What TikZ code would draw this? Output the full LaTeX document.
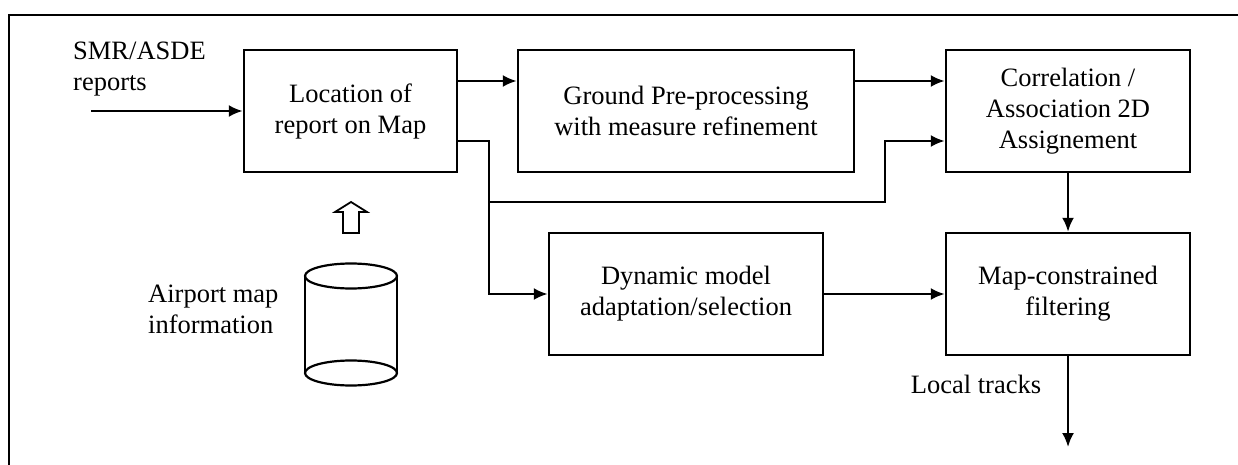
\documentclass[tikz,border=0pt]{standalone}
\usepackage{fontspec}
\setmainfont{Liberation Serif}
\usetikzlibrary{arrows.meta}

\begin{document}
\begin{tikzpicture}[x=1pt,y=-1pt,
  blk/.style={draw,line width=2.5pt,minimum width=#1,minimum height=122pt,align=center,inner sep=0pt,font=\fontsize{26.5}{31}\selectfont},
  txt/.style={align=left,inner sep=0pt,font=\fontsize{26.5}{31}\selectfont},
  arr/.style={-{Latex[length=14pt,width=12pt]},line width=2.2pt}]
\useasboundingbox (0,0) rectangle (1238,465);

\draw[line width=2.5pt] (9,465) -- (9,15) -- (1238,15);

\node[blk=213pt] (loc) at (350.5,111) {Location of\\report on Map};
\node[blk=336pt] (pre) at (686,111) {Ground Pre-processing\\with measure refinement};
\node[blk=244pt] (corr) at (1068,111) {Correlation /\\Association 2D\\Assignement};
\node[blk=274pt] (dyn) at (686,294) {Dynamic model\\adaptation/selection};
\node[blk=244pt] (filt) at (1068,294) {Map-constrained\\filtering};

\node[txt,anchor=west] (smr) at (73,69) {SMR/ASDE\\reports};
\node[txt,anchor=west] (apt) at (148,309) {Airport map\\information};
\node[txt] (lt) at (976,384) {Local tracks};

\coordinate (src) at (91,111);
\coordinate (j1) at (489,202);
\coordinate (j2) at (885,202);
\coordinate (out) at (1068,447);

\draw[arr] (src) -- (loc);
\draw[arr] ([yshift=30pt]loc.east) -- ([yshift=30pt]pre.west);
\draw[arr] ([yshift=30pt]pre.east) -- ([yshift=30pt]corr.west);
\draw[arr] ([yshift=-30pt]loc.east) -| (j1) -- (j2) |- ([yshift=-30pt]corr.west);
\draw[arr] (j1) |- (dyn);
\draw[arr] (dyn) -- (filt);
\draw[arr] (corr) -- (filt);
\draw[arr] (filt) -- (out);

\draw[line width=1.8pt] (343,233) -- (343,212) -- (335,212) -- (351,202) -- (367,212) -- (359,212) -- (359,233) -- cycle;

\draw[line width=2.2pt] (305,276) -- (305,373) (397,276) -- (397,373);
\draw[line width=2.2pt] (351,276) ellipse [x radius=46, y radius=12.5];
\draw[line width=2.2pt] (351,373) ellipse [x radius=46, y radius=12.5];
\end{tikzpicture}
\end{document}
